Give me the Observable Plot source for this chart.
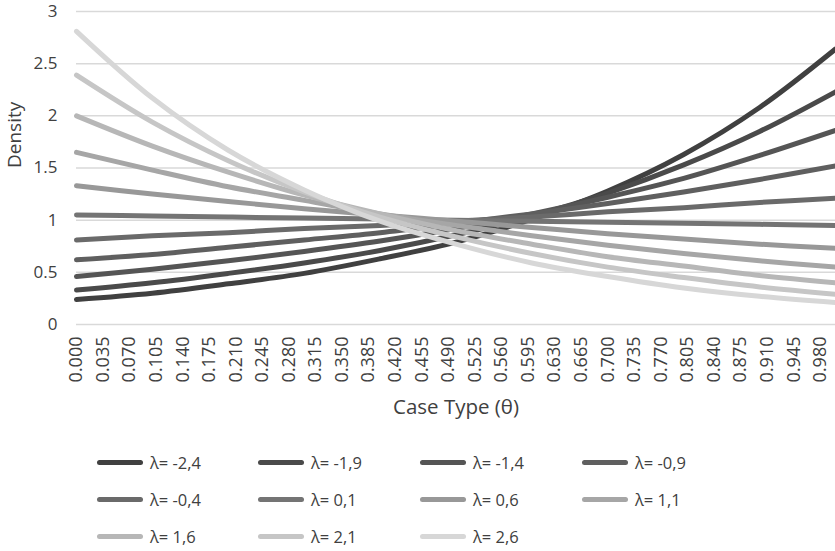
<!DOCTYPE html>
<html>
<head>
<meta charset="utf-8">
<script src="https://cdn.jsdelivr.net/npm/d3@7"></script>
<script src="https://cdn.jsdelivr.net/npm/@observablehq/plot@0.6"></script>
<style>
  body { margin: 0; background: #fff; }
  #wrap { position: relative; width: 835px; height: 551px; font-family: "Open Sans", sans-serif; color: #404040; }
  #legend .item { position: absolute; display: flex; align-items: center; font-size: 16.5px; white-space: nowrap; }
  #legend .sw { width: 46px; height: 5px; border-radius: 3px; margin-right: 7px; }
</style>
</head>
<body>
<div id="wrap"><div id="chart"></div><div id="legend"></div></div>
<script>
// Categories / series
const lambdas = [-2.4, -1.9, -1.4, -0.9, -0.4, 0.1, 0.6, 1.1, 1.6, 2.1, 2.6];
const lambdaLabels = ["λ= -2,4", "λ= -1,9", "λ= -1,4", "λ= -0,9", "λ= -0,4", "λ= 0,1", "λ= 0,6", "λ= 1,1", "λ= 1,6", "λ= 2,1", "λ= 2,6"];
const seriesColors = ["#404040", "#4a4a4a", "#555555", "#5f5f5f", "#6a6a6a", "#747474", "#989898", "#a6a6a6", "#b7b7b7", "#c6c6c6", "#d7d7d7"];
// Case type values (θ) at which densities were read
const thetas = [0, 0.1, 0.2, 0.3, 0.4, 0.5, 0.6, 0.7, 0.8, 0.9, 1.0];
// Density values
const dNeg24 = [0.24, 0.30, 0.39, 0.49, 0.63, 0.79, 1.01, 1.28, 1.63, 2.08, 2.64];
const dNeg19 = [0.33, 0.40, 0.49, 0.59, 0.71, 0.86, 1.04, 1.26, 1.53, 1.85, 2.23];
const dNeg14 = [0.46, 0.53, 0.61, 0.70, 0.80, 0.92, 1.06, 1.22, 1.40, 1.62, 1.86];
const dNeg09 = [0.62, 0.67, 0.74, 0.81, 0.88, 0.97, 1.06, 1.16, 1.27, 1.39, 1.52];
const dNeg04 = [0.81, 0.85, 0.88, 0.92, 0.95, 0.99, 1.03, 1.08, 1.12, 1.17, 1.21];
const dPos01 = [1.05, 1.04, 1.03, 1.02, 1.01, 1.00, 0.99, 0.98, 0.97, 0.96, 0.95];
const dPos06 = [1.33, 1.25, 1.18, 1.11, 1.05, 0.99, 0.93, 0.87, 0.82, 0.77, 0.73];
const dPos11 = [1.65, 1.48, 1.32, 1.19, 1.06, 0.95, 0.85, 0.76, 0.68, 0.61, 0.55];
const dPos16 = [2.00, 1.71, 1.46, 1.24, 1.06, 0.90, 0.77, 0.65, 0.56, 0.47, 0.40];
const dPos21 = [2.39, 1.94, 1.57, 1.27, 1.03, 0.84, 0.68, 0.55, 0.45, 0.36, 0.29];
const dPos26 = [2.81, 2.17, 1.67, 1.29, 0.99, 0.77, 0.59, 0.46, 0.35, 0.27, 0.21];
// Tick labels
const xTicks = [0.000, 0.035, 0.070, 0.105, 0.140, 0.175, 0.210, 0.245, 0.280, 0.315, 0.350, 0.385, 0.420, 0.455, 0.490, 0.525, 0.560, 0.595, 0.630, 0.665, 0.700, 0.735, 0.770, 0.805, 0.840, 0.875, 0.910, 0.945, 0.980];
const yTicks = [0, 0.5, 1, 1.5, 2, 2.5, 3];
const xTitle = "Case Type (θ)";
const yTitle = "Density";

const allSeries = [dNeg24, dNeg19, dNeg14, dNeg09, dNeg04, dPos01, dPos06, dPos11, dPos16, dPos21, dPos26];
const data = [];
allSeries.forEach((s, i) => s.forEach((v, j) => data.push({lambda: lambdaLabels[i], theta: thetas[j], density: v})));

const chart = Plot.plot({
  width: 835,
  height: 430,
  marginLeft: 76,
  marginRight: 0,
  marginTop: 11,
  marginBottom: 106,
  style: {fontFamily: "Open Sans, sans-serif", fontSize: "17px", color: "#404040", background: "#fff", overflow: "visible"},
  x: {domain: [0, 1]},
  y: {domain: [0, 3]},
  color: {domain: lambdaLabels, range: seriesColors},
  marks: [
    Plot.gridY(yTicks, {stroke: "#d9d9d9", strokeOpacity: 1, strokeWidth: 1.5}),
    Plot.axisY({ticks: yTicks, tickSize: 0, tickPadding: 19, tickFormat: d => String(d), fontSize: 17, label: null}),
    Plot.axisX({ticks: xTicks, tickSize: 0, tickPadding: 12, tickRotate: -90, tickFormat: d3.format(".3f"), fontSize: 18, label: null}),
    Plot.text([xTitle], {frameAnchor: "bottom", dy: 89, fontSize: 20.5, fill: "#404040"}),
    Plot.text([yTitle], {frameAnchor: "left", rotate: -90, dx: -62, fontSize: 19, fill: "#404040"}),
    Plot.line(data, {x: "theta", y: "density", z: "lambda", stroke: "lambda", strokeWidth: 5,
      strokeLinecap: "round", curve: "catmull-rom"})
  ]
});
document.getElementById("chart").appendChild(chart);

const legend = document.getElementById("legend");
const colX = [97, 258, 420, 582];
const rowY = [462, 499, 536];
lambdaLabels.forEach((lab, i) => {
  const it = document.createElement("div");
  it.className = "item";
  it.style.left = colX[i % 4] + "px";
  it.style.top = (rowY[Math.floor(i / 4)] - 12) + "px";
  it.style.height = "24px";
  const sw = document.createElement("div");
  sw.className = "sw";
  sw.style.background = seriesColors[i];
  const tx = document.createElement("span");
  tx.textContent = lab;
  it.appendChild(sw);
  it.appendChild(tx);
  legend.appendChild(it);
});
</script>
</body>
</html>
